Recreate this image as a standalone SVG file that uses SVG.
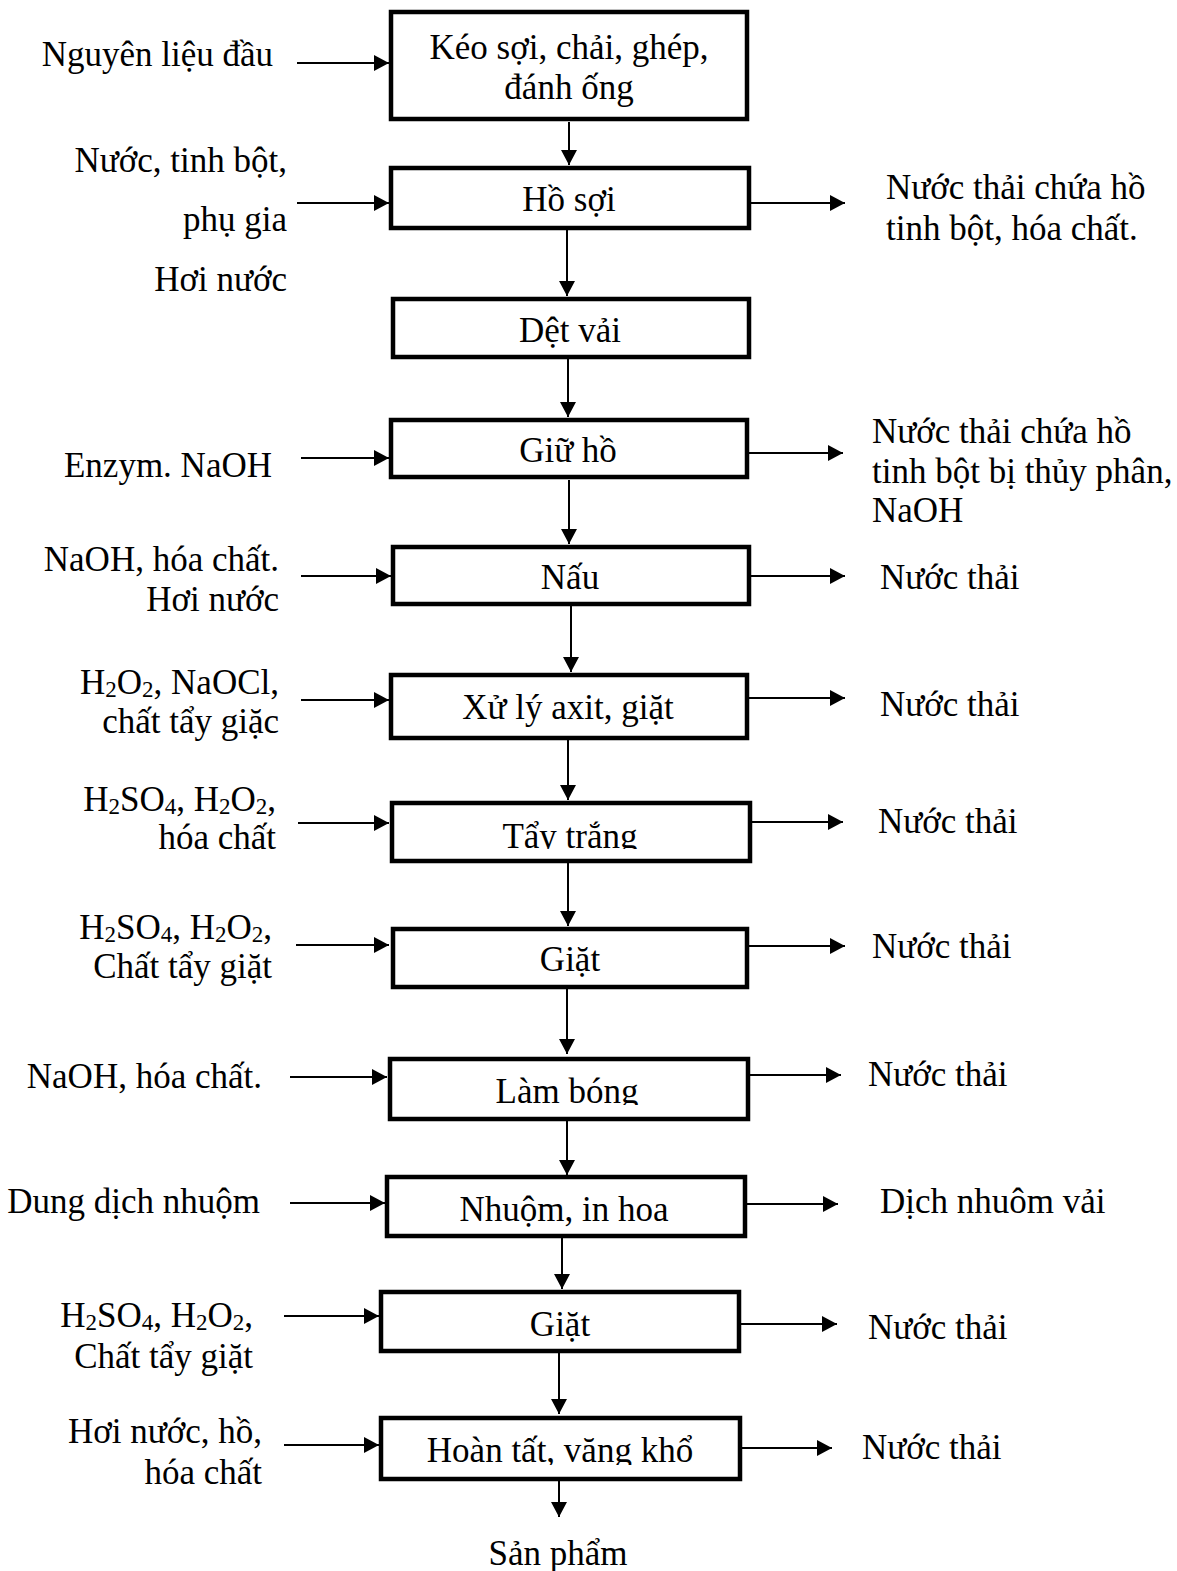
<svg xmlns="http://www.w3.org/2000/svg" width="1177" height="1571" viewBox="0 0 1177 1571">
<style>
text{font-family:"Liberation Serif","Times New Roman",serif;font-size:35px;fill:#000}
.c{text-anchor:middle}
.e{text-anchor:end}
.box{fill:#fff;stroke:#000;stroke-width:4.5}
.ln{stroke:#000;stroke-width:2;fill:none}
.s{font-size:23px}
</style>
<defs>
<marker id="ah" markerWidth="18" markerHeight="18" refX="15" refY="8" orient="auto" markerUnits="userSpaceOnUse"><path d="M0,0 L15,8 L0,16 z" fill="#000"/></marker>
<clipPath id="c7"><rect x="391" y="803" width="358" height="46"/></clipPath>
<clipPath id="c9"><rect x="389" y="1059" width="360" height="46"/></clipPath>
<clipPath id="c12"><rect x="381" y="1418" width="360" height="47"/></clipPath>
</defs>
<rect width="1177" height="1571" fill="#fff"/>
<g id="connectors">
<line class="ln" x1="569" y1="122" x2="569" y2="165" marker-end="url(#ah)"/>
<line class="ln" x1="567" y1="230" x2="567" y2="296" marker-end="url(#ah)"/>
<line class="ln" x1="568" y1="359" x2="568" y2="417" marker-end="url(#ah)"/>
<line class="ln" x1="569" y1="480" x2="569" y2="544" marker-end="url(#ah)"/>
<line class="ln" x1="571" y1="606" x2="571" y2="672" marker-end="url(#ah)"/>
<line class="ln" x1="568" y1="740" x2="568" y2="800" marker-end="url(#ah)"/>
<line class="ln" x1="568" y1="862" x2="568" y2="926" marker-end="url(#ah)"/>
<line class="ln" x1="567" y1="989" x2="567" y2="1054" marker-end="url(#ah)"/>
<line class="ln" x1="567" y1="1121" x2="567" y2="1175" marker-end="url(#ah)"/>
<line class="ln" x1="562" y1="1238" x2="562" y2="1289" marker-end="url(#ah)"/>
<line class="ln" x1="559" y1="1353" x2="559" y2="1414" marker-end="url(#ah)"/>
<line class="ln" x1="559" y1="1481" x2="559" y2="1517" marker-end="url(#ah)"/>
<line class="ln" x1="297" y1="63" x2="389" y2="63" marker-end="url(#ah)"/>
<line class="ln" x1="297" y1="203" x2="389" y2="203" marker-end="url(#ah)"/>
<line class="ln" x1="301" y1="458" x2="389" y2="458" marker-end="url(#ah)"/>
<line class="ln" x1="301" y1="576" x2="391" y2="576" marker-end="url(#ah)"/>
<line class="ln" x1="301" y1="700" x2="389" y2="700" marker-end="url(#ah)"/>
<line class="ln" x1="298" y1="823" x2="389" y2="823" marker-end="url(#ah)"/>
<line class="ln" x1="296" y1="945" x2="389" y2="945" marker-end="url(#ah)"/>
<line class="ln" x1="290" y1="1077" x2="387" y2="1077" marker-end="url(#ah)"/>
<line class="ln" x1="290" y1="1203" x2="385" y2="1203" marker-end="url(#ah)"/>
<line class="ln" x1="284" y1="1316" x2="379" y2="1316" marker-end="url(#ah)"/>
<line class="ln" x1="284" y1="1445" x2="379" y2="1445" marker-end="url(#ah)"/>
<line class="ln" x1="750" y1="203" x2="845" y2="203" marker-end="url(#ah)"/>
<line class="ln" x1="748" y1="453" x2="843" y2="453" marker-end="url(#ah)"/>
<line class="ln" x1="750" y1="576" x2="845" y2="576" marker-end="url(#ah)"/>
<line class="ln" x1="748" y1="698" x2="845" y2="698" marker-end="url(#ah)"/>
<line class="ln" x1="750" y1="822" x2="843" y2="822" marker-end="url(#ah)"/>
<line class="ln" x1="748" y1="946" x2="845" y2="946" marker-end="url(#ah)"/>
<line class="ln" x1="748" y1="1075" x2="841" y2="1075" marker-end="url(#ah)"/>
<line class="ln" x1="745" y1="1204" x2="838" y2="1204" marker-end="url(#ah)"/>
<line class="ln" x1="740" y1="1324" x2="837" y2="1324" marker-end="url(#ah)"/>
<line class="ln" x1="740" y1="1448" x2="832" y2="1448" marker-end="url(#ah)"/>
</g>
<g id="n1"><rect class="box" x="391" y="12" width="356" height="107"/><text class="c" x="569" y="59">Kéo sợi, chải, ghép,</text><text class="c" x="569" y="99">đánh ống</text></g>
<g id="n2"><rect class="box" x="391" y="168" width="358" height="60"/><text class="c" x="569" y="211">Hồ sợi</text></g>
<g id="n3"><rect class="box" x="393" y="299" width="356" height="58"/><text class="c" x="570" y="342">Dệt vải</text></g>
<g id="n4"><rect class="box" x="391" y="420" width="356" height="57"/><text class="c" x="568" y="462">Giữ hồ</text></g>
<g id="n5"><rect class="box" x="393" y="547" width="356" height="57"/><text class="c" x="570" y="589">Nấu</text></g>
<g id="n6"><rect class="box" x="391" y="675" width="356" height="63"/><text class="c" x="568" y="719">Xử lý axit, giặt</text></g>
<g id="n7"><rect class="box" x="392" y="803" width="358" height="58"/><text class="c" x="570" y="848" clip-path="url(#c7)">Tẩy trắng</text></g>
<g id="n8"><rect class="box" x="393" y="929" width="354" height="58"/><text class="c" x="570" y="971">Giặt</text></g>
<g id="n9"><rect class="box" x="390" y="1059" width="358" height="60"/><text class="c" x="567" y="1103" clip-path="url(#c9)">Làm bóng</text></g>
<g id="n10"><rect class="box" x="387" y="1177" width="358" height="59"/><text class="c" x="564" y="1221">Nhuộm, in hoa</text></g>
<g id="n11"><rect class="box" x="381" y="1292" width="358" height="59"/><text class="c" x="560" y="1336">Giặt</text></g>
<g id="n12"><rect class="box" x="381" y="1418" width="359" height="61"/><text class="c" x="560" y="1462" clip-path="url(#c12)">Hoàn tất, văng khổ</text></g>
<g id="inputs">
<text class="e" x="273" y="66">Nguyên liệu đầu</text>
<text class="e" x="287" y="172">Nước, tinh bột,</text>
<text class="e" x="287" y="231">phụ gia</text>
<text class="e" x="287" y="291">Hơi nước</text>
<text class="e" x="272" y="477">Enzym. NaOH</text>
<text class="e" x="279" y="571">NaOH, hóa chất.</text>
<text class="e" x="279" y="611">Hơi nước</text>
<text class="e" x="279" y="694">H<tspan class="s" dy="3">2</tspan><tspan dy="-3">O</tspan><tspan class="s" dy="3">2</tspan><tspan dy="-3">, NaOCl,</tspan></text>
<text class="e" x="279" y="733">chất tẩy giặc</text>
<text class="e" x="276" y="811">H<tspan class="s" dy="3">2</tspan><tspan dy="-3">SO</tspan><tspan class="s" dy="3">4</tspan><tspan dy="-3">, H</tspan><tspan class="s" dy="3">2</tspan><tspan dy="-3">O</tspan><tspan class="s" dy="3">2</tspan><tspan dy="-3">,</tspan></text>
<text class="e" x="276" y="849">hóa chất</text>
<text class="e" x="272" y="939">H<tspan class="s" dy="3">2</tspan><tspan dy="-3">SO</tspan><tspan class="s" dy="3">4</tspan><tspan dy="-3">, H</tspan><tspan class="s" dy="3">2</tspan><tspan dy="-3">O</tspan><tspan class="s" dy="3">2</tspan><tspan dy="-3">,</tspan></text>
<text class="e" x="272" y="978">Chất tẩy giặt</text>
<text class="e" x="262" y="1088">NaOH, hóa chất.</text>
<text class="e" x="260" y="1213">Dung dịch nhuộm</text>
<text class="e" x="253" y="1327">H<tspan class="s" dy="3">2</tspan><tspan dy="-3">SO</tspan><tspan class="s" dy="3">4</tspan><tspan dy="-3">, H</tspan><tspan class="s" dy="3">2</tspan><tspan dy="-3">O</tspan><tspan class="s" dy="3">2</tspan><tspan dy="-3">,</tspan></text>
<text class="e" x="253" y="1368">Chất tẩy giặt</text>
<text class="e" x="262" y="1443">Hơi nước, hồ,</text>
<text class="e" x="262" y="1484">hóa chất</text>
</g>
<g id="outputs">
<text x="886" y="199">Nước thải chứa hồ</text>
<text x="886" y="240">tinh bột, hóa chất.</text>
<text x="872" y="443">Nước thải chứa hồ</text>
<text x="872" y="483">tinh bột bị thủy phân,</text>
<text x="872" y="522">NaOH</text>
<text x="880" y="589">Nước thải</text>
<text x="880" y="716">Nước thải</text>
<text x="878" y="833">Nước thải</text>
<text x="872" y="958">Nước thải</text>
<text x="868" y="1086">Nước thải</text>
<text x="880" y="1213">Dịch nhuôm vải</text>
<text x="868" y="1339">Nước thải</text>
<text x="862" y="1459">Nước thải</text>
<text class="c" x="558" y="1565">Sản phẩm</text>
</g>
</svg>
